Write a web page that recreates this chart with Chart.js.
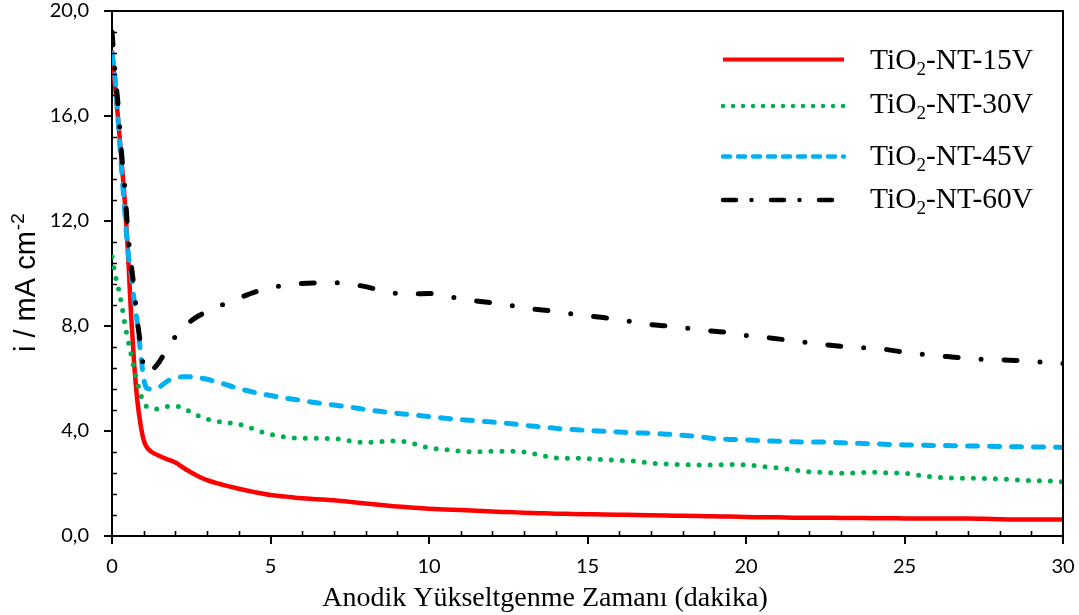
<!DOCTYPE html>
<html>
<head>
<meta charset="utf-8">
<style>
  body { margin: 0; background: #fff; }
  #box { width: 1079px; height: 615px; }
</style>
</head>
<body>
<div id="box"><canvas id="myChart" width="1079" height="615"></canvas></div>

<script src="https://cdn.jsdelivr.net/npm/chart.js"></script>
<script>
// anodizing time (dakika), shared by all four curves
const times = [0, 0.1, 0.2, 0.3, 0.4, 0.5, 0.6, 0.7, 0.8, 0.9, 1.0, 1.1,
  1.25, 1.5, 1.75, 2, 2.25, 2.5, 2.75, 3,
  3.5, 4, 4.5, 5, 5.5, 6, 6.5, 7, 7.5, 8, 8.5, 9, 9.5, 10, 10.5, 11, 11.5, 12, 12.5, 13,
  13.5, 14, 14.5, 15, 15.5, 16, 16.5, 17, 17.5, 18, 18.5, 19, 19.5, 20, 20.5, 21, 21.5, 22,
  22.5, 23, 23.5, 24, 24.5, 25, 25.5, 26, 26.5, 27, 27.5, 28, 28.5, 29, 29.5, 30];

// current density, mA cm-2
const i15 = [18.5, 17.1, 15.8, 14.3, 12.8, 10.9, 8.45, 6.55, 5.15, 4.25, 3.65, 3.38,
  3.2, 3.05, 2.92, 2.8, 2.6, 2.42, 2.26, 2.13,
  1.95, 1.8, 1.67, 1.56, 1.5, 1.44, 1.4, 1.36, 1.3, 1.24, 1.18, 1.12, 1.08, 1.04, 1.01, 0.99, 0.96, 0.93, 0.91, 0.89,
  0.87, 0.85, 0.84, 0.83, 0.82, 0.81, 0.8, 0.79, 0.78, 0.77, 0.76, 0.75, 0.74, 0.72, 0.71, 0.71, 0.7, 0.7,
  0.7, 0.69, 0.69, 0.68, 0.68, 0.67, 0.67, 0.67, 0.67, 0.67, 0.66, 0.64, 0.63, 0.63, 0.63, 0.63];
const i30 = [10.64, 9.95, 9.45, 8.85, 8.11, 7.5, 6.92, 6.35, 5.85, 5.42, 5.05, 4.93,
  4.86, 4.84, 4.93, 4.94, 4.88, 4.71, 4.56, 4.45,
  4.33, 4.26, 4.06, 3.87, 3.77, 3.72, 3.72, 3.71, 3.63, 3.56, 3.6, 3.62, 3.52, 3.36, 3.3, 3.23, 3.21, 3.23, 3.23, 3.2,
  3.08, 2.97, 2.96, 2.95, 2.91, 2.88, 2.85, 2.78, 2.74, 2.72, 2.7, 2.71, 2.72, 2.71, 2.65, 2.59, 2.52, 2.45,
  2.42, 2.39, 2.41, 2.43, 2.41, 2.39, 2.31, 2.24, 2.21, 2.2, 2.19, 2.17, 2.14, 2.11, 2.1, 2.06];
const i45 = [18.4, 17.4, 15.7, 14.0, 12.4, 10.9, 10.0, 8.95, 8.1, 7.0, 6.0, 5.63,
  5.6, 5.68, 5.9, 6.02, 6.07, 6.07, 6.03, 5.97,
  5.8, 5.62, 5.47, 5.35, 5.25, 5.16, 5.07, 4.99, 4.91, 4.82, 4.74, 4.67, 4.61, 4.55, 4.49, 4.43, 4.39, 4.34, 4.29, 4.22,
  4.16, 4.1, 4.06, 4.02, 3.99, 3.96, 3.93, 3.91, 3.88, 3.84, 3.79, 3.71, 3.68, 3.66, 3.63, 3.61, 3.59, 3.58,
  3.58, 3.55, 3.53, 3.51, 3.49, 3.47, 3.46, 3.45, 3.44, 3.43, 3.42, 3.41, 3.4, 3.39, 3.39, 3.37];
const i60 = [19.2, 17.6, 16.3, 14.6, 13.3, 11.6, 10.4, 9.4, 8.2, 7.3, 6.4, 6.2,
  6.3, 6.65, 7.15, 7.6, 7.95, 8.2, 8.4, 8.55,
  8.82, 9.06, 9.29, 9.46, 9.56, 9.62, 9.64, 9.65, 9.59, 9.5, 9.35, 9.24, 9.22, 9.24, 9.14, 9.04, 8.95, 8.88, 8.8, 8.68,
  8.62, 8.55, 8.46, 8.39, 8.32, 8.24, 8.14, 8.05, 8.0, 7.94, 7.86, 7.8, 7.74, 7.64, 7.58, 7.51, 7.44, 7.36,
  7.29, 7.23, 7.19, 7.15, 7.09, 7.0, 6.93, 6.87, 6.82, 6.77, 6.73, 6.71, 6.69, 6.67, 6.6, 6.57];

const voltages = ['15V', '30V', '45V', '60V'];
const xTicks = [0, 5, 10, 15, 20, 25, 30];
const yTicks = [0, 4, 8, 12, 16, 20];

const pts = arr => times.map((t, i) => ({ x: t, y: arr[i] }));

const data = {
  datasets: [{
    label: voltages[0],
    data: pts(i15),
    borderColor: '#FF0000',
    borderWidth: 4.5,
    order: 3,
    legendDash: []
  }, {
    label: voltages[1],
    data: pts(i30),
    borderColor: '#00B050',
    borderWidth: 5,
    borderDash: [0, 11],
    borderCapStyle: 'round',
    order: 2,
    legendDash: [0, 10]
  }, {
    label: voltages[2],
    data: pts(i45),
    borderColor: '#00B0F0',
    borderWidth: 5,
    borderDash: [10, 12],
    borderCapStyle: 'round',
    order: 1,
    legendDash: [7, 8]
  }, {
    label: voltages[3],
    data: pts(i60),
    borderColor: '#000000',
    borderWidth: 5,
    borderDash: [13, 23, 0, 23],
    borderCapStyle: 'round',
    order: 0,
    legendDash: [13, 15.5, 0, 19.5]
  }]
};

// small inward ticks, plus the closing top / right frame
const minorTicks = {
  id: 'minorTicks',
  afterDraw(chart) {
    const { ctx, chartArea: a, scales: { x, y } } = chart;
    ctx.save();
    ctx.strokeStyle = '#000';
    ctx.lineWidth = 1.6;
    ctx.beginPath();
    for (let k = 1; k < 25; k++) {
      if (k % 5 === 0) continue;
      const py = Math.round(y.getPixelForValue(k * 0.8)) + 0.5;
      ctx.moveTo(a.left, py);
      ctx.lineTo(a.left + 5, py);
    }
    for (let k = 1; k < 30; k++) {
      if (k % 5 === 0) continue;
      const px = Math.round(x.getPixelForValue(k)) + 0.5;
      ctx.moveTo(px, a.bottom);
      ctx.lineTo(px, a.bottom - 5);
    }
    ctx.stroke();
    ctx.lineWidth = 2;
    ctx.beginPath();
    ctx.moveTo(a.left, a.top);
    ctx.lineTo(a.right, a.top);
    ctx.lineTo(a.right, a.bottom);
    ctx.stroke();
    ctx.restore();
  }
};

// axis titles (y one has a superscript) and the legend with TiO2 subscript
const labels = {
  id: 'labels',
  afterDraw(chart) {
    const ctx = chart.ctx;
    ctx.save();
    ctx.fillStyle = '#000';
    ctx.textBaseline = 'alphabetic';
    ctx.textAlign = 'center';
    ctx.font = '28px "Liberation Serif"';
    ctx.fillText('Anodik Yükseltgenme Zamanı (dakika)', 545, 606);

    ctx.translate(35, 352);
    ctx.rotate(-Math.PI / 2);
    ctx.textAlign = 'left';
    ctx.font = '29px "Liberation Sans"';
    const base = 'i / mA cm';
    ctx.fillText(base, 0, 0);
    const w = ctx.measureText(base).width;
    ctx.font = '19px "Liberation Sans"';
    ctx.fillText('-2', w + 1, -11);
    ctx.restore();

    const rows = [59.5, 106, 156.5, 200];
    const bases = [69, 113, 165, 208];
    chart.data.datasets.forEach((ds, i) => {
      ctx.save();
      ctx.strokeStyle = ds.borderColor;
      ctx.lineWidth = ds.borderWidth - 0.5;
      ctx.lineCap = ds.borderCapStyle || 'butt';
      ctx.setLineDash(ds.legendDash);
      ctx.beginPath();
      ctx.moveTo(723, rows[i]);
      ctx.lineTo(844, rows[i]);
      ctx.stroke();
      ctx.setLineDash([]);
      ctx.fillStyle = '#000';
      ctx.textBaseline = 'alphabetic';
      ctx.textAlign = 'left';
      let tx = 870;
      ctx.font = '29.5px "Liberation Serif"';
      ctx.fillText('TiO', tx, bases[i]);
      tx += ctx.measureText('TiO').width;
      ctx.font = '19px "Liberation Serif"';
      ctx.fillText('2', tx, bases[i] + 6);
      tx += ctx.measureText('2').width;
      ctx.font = '29.5px "Liberation Serif"';
      ctx.fillText('-NT-' + ds.label, tx, bases[i]);
      ctx.restore();
    });
  }
};

// pin the axis boxes so the plot area sits at 112..1063 x 11..536
const pinY = s => { s.width = 112; s.paddingTop = 0; s.paddingBottom = 0; };
const pinX = s => { s.height = 79; s.paddingLeft = 0; s.paddingRight = 0; };

const config = {
  type: 'line',
  data,
  options: {
    responsive: false,
    animation: false,
    layout: { padding: { top: 11, right: 16, left: 0, bottom: 0 } },
    elements: {
      point: { radius: 0 },
      line: { cubicInterpolationMode: 'monotone', fill: false }
    },
    plugins: {
      legend: { display: false },
      tooltip: { enabled: false }
    },
    scales: {
      x: {
        type: 'linear',
        min: 0,
        max: 30,
        afterBuildTicks: s => { s.ticks = xTicks.map(v => ({ value: v })); },
        afterFit: pinX,
        border: { color: '#000', width: 2 },
        grid: { drawOnChartArea: false, color: '#000', lineWidth: 2, tickLength: 8 },
        ticks: { color: '#000', font: { family: 'Lato', size: 20, lineHeight: 1.2 }, padding: 11, maxRotation: 0 }
      },
      y: {
        min: 0,
        max: 20,
        afterBuildTicks: s => { s.ticks = yTicks.map(v => ({ value: v })); },
        afterFit: pinY,
        border: { color: '#000', width: 2 },
        grid: { drawOnChartArea: false, color: '#000', lineWidth: 2, tickLength: 8 },
        ticks: {
          color: '#000',
          font: { family: 'Lato', size: 20, lineHeight: 1 },
          padding: 15,
          callback: v => v.toFixed(1).replace('.', ',')
        }
      }
    }
  },
  plugins: [minorTicks, labels]
};

const myChart = new Chart(document.getElementById('myChart'), config);
</script>
</body>
</html>
